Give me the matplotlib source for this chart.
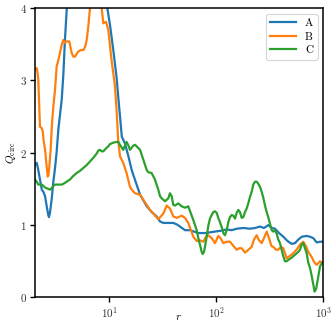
import matplotlib
matplotlib.use("Agg")
import matplotlib.pyplot as plt

# ===================== data =====================
r_a = [2.02, 2.10, 2.17, 2.25, 2.34, 2.42, 2.51, 2.60, 2.69, 2.73, 2.79, 2.89, 3.00, 3.11,
       3.22, 3.34, 3.46, 3.59, 3.72, 3.85, 4.00, 4.5, 6.0, 8.0, 9.58, 10.15, 10.9, 11.7,
       12.2, 13.1, 13.5, 14.0, 15.1, 16.2, 18.0, 19.4, 22.4, 24.9, 27.7, 29.8, 32.0, 35.6,
       39.6, 42.7, 45.8, 51.0, 56.8, 67.9, 78.4, 87.3, 97.2, 108.3, 125.1, 139.3, 155.1,
       178.8, 206.6, 230, 256.1, 279, 306.2, 331.6, 353.8, 385.5, 422.9, 463, 506.7, 544,
       584, 632, 699.7, 751, 806.4, 867.7, 931.8, 1000]
q_a = [1.83, 1.86, 1.76, 1.63, 1.49, 1.46, 1.40, 1.26, 1.14, 1.11, 1.17, 1.35, 1.60, 1.79,
       2.01, 2.32, 2.52, 2.73, 3.08, 3.56, 3.98, 4.6, 5.0, 4.8, 4.0, 3.77, 3.42, 3.04,
       2.73, 2.22, 2.18, 2.13, 1.95, 1.76, 1.56, 1.42, 1.26, 1.18, 1.12, 1.05, 1.03, 1.03,
       1.03, 1.01, 0.98, 0.93, 0.93, 0.89, 0.89, 0.90, 0.91, 0.92, 0.94, 0.93, 0.95,
       0.96, 0.95, 0.96, 0.98, 0.96, 1.00, 0.96, 0.95, 0.89, 0.84, 0.78, 0.74, 0.75,
       0.80, 0.84, 0.85, 0.84, 0.82, 0.76, 0.77, 0.77]

r_b = [2.02, 2.10, 2.13, 2.17, 2.22, 2.25, 2.34, 2.39, 2.43, 2.51, 2.60, 2.66, 2.70, 2.76,
       2.83, 2.91, 3.00, 3.11, 3.22, 3.34, 3.46, 3.59, 3.72, 3.81, 4.00, 4.23, 4.45, 4.61,
       4.78, 5.13, 5.44, 5.72, 5.93, 6.15, 6.37, 6.60, 7.2, 8.0, 8.49, 8.79, 9.32, 9.79,
       10.5, 11.3, 11.7, 12.1, 12.6, 13.5, 14.5, 15.6, 16.2, 17.4, 19.4, 20.8, 24.0, 25.8,
       28.7, 32.0, 34.4, 36.9, 39.6, 42.7, 47.5, 51.0, 54.7, 58.0, 61.0, 65.6, 70.4, 75.6,
       80.1, 84.2, 90.6, 97.2, 104.4, 109.5, 116.3, 124.6, 134.3, 144.9, 155.1, 163, 172.8,
       185.5, 200, 214.2, 225, 238.6, 248, 265.7, 279, 295.8, 311, 328, 341, 361, 380,
       402.5, 423, 443.6, 455, 483, 524, 562, 606, 650, 689, 724, 779, 819, 868, 932, 1000]
q_b = [3.15, 3.17, 3.12, 3.01, 2.59, 2.36, 2.34, 2.29, 2.18, 2.04, 1.81, 1.67, 1.69, 1.83,
       2.04, 2.39, 2.64, 2.87, 3.19, 3.28, 3.38, 3.49, 3.56, 3.52, 3.54, 3.54, 3.38, 3.33,
       3.33, 3.40, 3.42, 3.42, 3.46, 3.56, 3.75, 4.0, 4.25, 4.2, 4.0, 3.79, 3.81, 3.70,
       3.28, 2.92, 2.59, 2.18, 1.95, 1.86, 1.72, 1.53, 1.49, 1.44, 1.42, 1.35, 1.21, 1.16,
       1.08, 1.16, 1.27, 1.23, 1.12, 1.10, 1.13, 1.10, 1.03, 0.93, 0.84, 0.78, 0.79, 0.77,
       0.84, 0.86, 0.82, 0.75, 0.85, 0.82, 0.75, 0.77, 0.77, 0.71, 0.66, 0.68, 0.68,
       0.62, 0.66, 0.70, 0.80, 0.86, 0.80, 0.75, 0.82, 0.91, 0.82, 0.71, 0.70, 0.66, 0.66,
       0.70, 0.68, 0.59, 0.54, 0.57, 0.61, 0.66, 0.73, 0.77, 0.71, 0.63, 0.56, 0.49, 0.45, 0.50, 0.47]

r_c = [2.02, 2.10, 2.17, 2.25, 2.34, 2.42, 2.51, 2.60, 2.69, 2.79, 2.89, 3.00, 3.11, 3.34,
       3.59, 3.72, 4.00, 4.29, 4.61, 4.96, 5.32, 5.72, 6.15, 6.60, 7.09, 7.63, 7.89, 8.19,
       8.49, 8.79, 9.32, 9.79, 10.15, 10.9, 11.7, 12.1, 12.6, 13.1, 13.5, 14.0, 14.5, 15.1,
       15.6, 16.2, 16.8, 17.4, 18.0, 19.4, 20.1, 20.8, 21.6, 22.4, 23.2, 24.9, 26.7, 27.7,
       28.7, 29.8, 30.9, 33.2, 35.6, 36.9, 38.3, 39.6, 41.1, 44.1, 47.5, 51.0, 54.7, 58.9,
       61.0, 65.6, 67.9, 70.4, 73.0, 74.6, 76.8, 78.4, 81.4, 84.2, 87.3, 90.6, 93.8, 97.2,
       100.9, 104.4, 108.3, 113, 116.3, 120.6, 125.1, 129.5, 134.3, 139.3, 144.2, 149.6,
       155.1, 160.6, 166.5, 172.8, 178.8, 185.5, 192.4, 199.1, 206.6, 214.2, 221.7, 230,
       238.6, 247, 256.1, 265.7, 275, 285.3, 295.8, 306.2, 317.6, 329.5, 341, 353.8, 366.9,
       379.7, 393.8, 408.5, 422.9, 438.7, 455, 473, 506.7, 544, 584, 606, 628, 650, 675, 700,
       724, 751, 779, 806, 830, 858, 887, 912, 932, 966, 1000]
q_c = [1.63, 1.60, 1.56, 1.56, 1.56, 1.54, 1.52, 1.51, 1.50, 1.49, 1.51, 1.54, 1.56, 1.56,
       1.56, 1.57, 1.60, 1.63, 1.68, 1.72, 1.75, 1.79, 1.83, 1.88, 1.93, 1.99, 2.03, 2.04,
       2.02, 2.02, 2.06, 2.09, 2.12, 2.14, 2.15, 2.15, 2.11, 2.07, 2.04, 2.10, 2.15, 2.10,
       2.04, 2.07, 2.10, 2.11, 2.09, 2.04, 1.97, 1.90, 1.83, 1.76, 1.73, 1.72, 1.63, 1.56,
       1.49, 1.40, 1.37, 1.33, 1.37, 1.44, 1.40, 1.28, 1.27, 1.30, 1.26, 1.24, 1.26, 1.13,
       1.07, 0.93, 0.82, 0.73, 0.63, 0.60, 0.63, 0.70, 0.84, 0.99, 1.09, 1.14, 1.18, 1.19,
       1.17, 1.10, 1.04, 0.96, 0.89, 0.86, 0.93, 1.04, 1.11, 1.14, 1.13, 1.09,
       1.17, 1.21, 1.18, 1.10, 1.11, 1.18, 1.23, 1.30, 1.39, 1.46, 1.56, 1.60,
       1.60, 1.57, 1.53, 1.46, 1.38, 1.27, 1.18, 1.11, 1.02, 0.93, 0.91, 0.93, 0.88,
       0.80, 0.75, 0.66, 0.57, 0.50, 0.50, 0.52, 0.55, 0.59, 0.63, 0.66, 0.73, 0.75, 0.68, 0.61,
       0.48, 0.41, 0.30, 0.18, 0.08, 0.12, 0.24, 0.35, 0.43, 0.47, 0.49]

labels = ["A", "B", "C"]
colors = ["#1f77b4", "#ff7f0e", "#2ca02c"]

# ===================== style =====================
plt.rcParams["font.family"] = "serif"
plt.rcParams["font.serif"] = ["cmr10", "DejaVu Serif"]
plt.rcParams["mathtext.fontset"] = "cm"
plt.rcParams["axes.formatter.use_mathtext"] = True
plt.rcParams["font.size"] = 8

fig = plt.figure(figsize=(3.35, 3.24), dpi=100)
ax = fig.add_axes([0.103, 0.082, 0.862, 0.893])

for r, q, lab, c in zip([r_a, r_b, r_c], [q_a, q_b, q_c], labels, colors):
    ax.plot(r, q, color=c, lw=1.6, label=lab)

ax.set_xscale("log")
ax.set_xlim(2, 1000)
ax.set_ylim(0, 4)
ax.set_yticks([0, 1, 2, 3, 4])
ax.xaxis.set_minor_locator(matplotlib.ticker.NullLocator())
ax.tick_params(axis="both", which="major", direction="out", length=3.5, width=1.0,
               labelsize=8, labelcolor="#333333", pad=2)
for sp in ax.spines.values():
    sp.set_linewidth(1.1)

# r sits about level with the bottom of the tick labels
ax.set_xlabel("$r$", fontsize=8, labelpad=-5)
ax.set_ylabel(r"$Q_{\rm circ}$", fontsize=8, labelpad=1)

leg = ax.legend(loc="upper right", fontsize=8, frameon=True, handlelength=2.3,
                borderpad=0.4, labelspacing=0.35, handletextpad=0.8)
leg.get_frame().set_edgecolor("#cccccc")
leg.get_frame().set_linewidth(0.8)

plt.savefig("out.png", dpi=100)
